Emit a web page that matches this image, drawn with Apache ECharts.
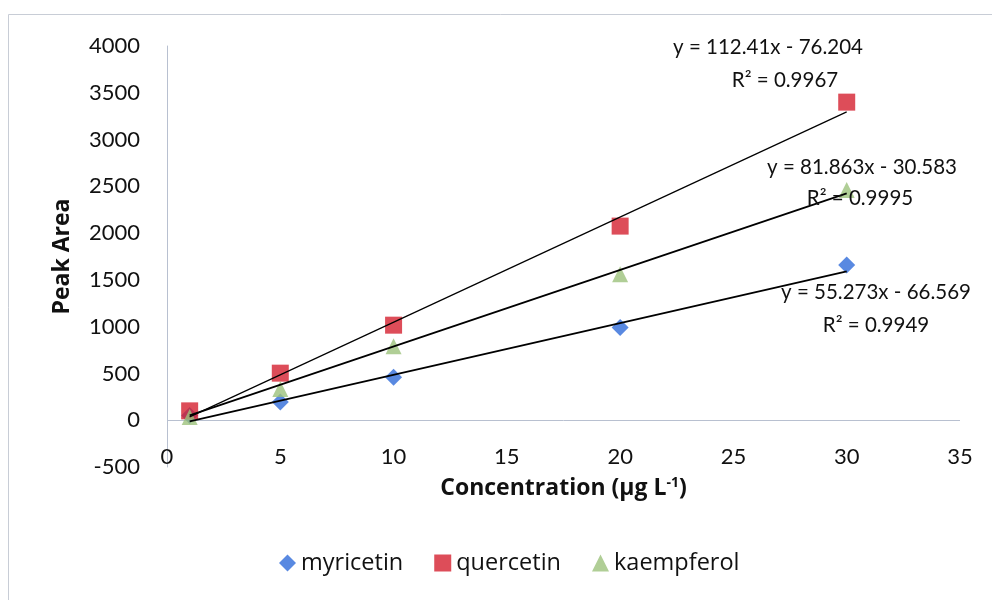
<!DOCTYPE html>
<html>
<head>
<meta charset="utf-8">
<script src="https://cdn.jsdelivr.net/npm/echarts@6/dist/echarts.min.js"></script>
<style>
html,body{margin:0;padding:0;background:#fff;}
#c{width:992px;height:600px;}
</style>
</head>
<body>
<div id="c"></div>
<script>
// Data
const concentrations = [1, 5, 10, 20, 30];
const myricetin = [50, 195, 460, 990, 1658];
const quercetin = [100, 503, 1016, 2075, 3400];
const kaempferol = [35, 335, 790, 1560, 2460];
// Trendline endpoints (at x = 1 and x = 30) from the printed fit equations
const trendX = [1, 30];
const myricetinTrend = [-11.3, 1591.6];
const quercetinTrend = [36.2, 3296.1];
const kaempferolTrend = [51.3, 2425.3];
const equations = [
  {eq: 'y = 112.41x - 76.204', r2: 'R² = 0.9967'},
  {eq: 'y = 81.863x - 30.583', r2: 'R² = 0.9995'},
  {eq: 'y = 55.273x - 66.569', r2: 'R² = 0.9949'}
];
const yTicks = {min: -500, max: 4000, interval: 500};
const xTicks = {min: 0, max: 35, interval: 5};

const FONT = 'Lato, "Open Sans", sans-serif';
const TFONT = '"Open Sans", Lato, sans-serif';
const blue = '#2F6CD9', red = '#D42030', green = '#9CC27C';
const axisColor = '#B8C0D0';

function pairs(xs, ys){ return xs.map((x,i)=>[x, ys[i]]); }

const chart = echarts.init(document.getElementById('c'), null, {renderer:'canvas'});
const eqStyle = {fontFamily: FONT, fontSize: 20.5, fill: '#111'};
chart.setOption({
  animation: false,
  backgroundColor: '#fff',
  grid: {left: 167, right: 32, top: 46, bottom: 133, containLabel: false},
  xAxis: {
    type: 'value', min: xTicks.min, max: xTicks.max, interval: xTicks.interval,
    axisLine: {show: false, onZero: false},
    axisTick: {show: false},
    splitLine: {show: false},
    axisLabel: {fontFamily: FONT, fontSize: 22, color: '#111', margin: -21},
    name: '{b|Concentration (μg L}{s|-1}{b|)}',
    nameLocation: 'middle', nameGap: 9,
    nameTextStyle: {
      rich: {
        b: {fontFamily: TFONT, fontSize: 23, fontWeight: 'bold', color: '#111'},
        s: {fontFamily: TFONT, fontSize: 14, fontWeight: 'bold', color: '#111', verticalAlign: 'top', padding: [0,0,11,0]}
      }
    }
  },
  yAxis: {
    type: 'value', min: yTicks.min, max: yTicks.max, interval: yTicks.interval,
    axisLine: {show: true, onZero: false, lineStyle: {color: axisColor, width: 1}},
    axisTick: {show: false},
    splitLine: {show: false},
    axisLabel: {fontFamily: FONT, fontSize: 22, color: '#111', margin: 27, formatter: v => String(v)},
    name: 'Peak Area', nameLocation: 'middle', nameGap: 93,
    nameTextStyle: {fontFamily: TFONT, fontSize: 23, fontWeight: 'bold', color: '#111'}
  },
  legend: {
    bottom: 20, left: 274,
    data: [
      {name: 'myricetin', icon: 'diamond'},
      {name: 'quercetin', icon: 'rect'},
      {name: 'kaempferol', icon: 'triangle'}
    ],
    itemWidth: 17, itemHeight: 17, itemGap: 31,
    textStyle: {fontFamily: TFONT, fontSize: 23.5, color: '#111'}
  },
  series: [
    {type: 'line', data: pairs(trendX, quercetinTrend), symbol: 'none', lineStyle: {color: '#000', width: 1.2}, silent: true, z: 3,
     markLine: {silent: true, symbol: 'none', label: {show: false}, lineStyle: {color: axisColor, type: 'solid', width: 1}, data: [{yAxis: 0}], z: 1}},
    {type: 'line', data: pairs(trendX, kaempferolTrend), symbol: 'none', lineStyle: {color: '#000', width: 1.8}, silent: true, z: 3},
    {type: 'line', data: pairs(trendX, myricetinTrend), symbol: 'none', lineStyle: {color: '#000', width: 1.8}, silent: true, z: 3},
    {name: 'myricetin', type: 'scatter', data: pairs(concentrations, myricetin), symbol: 'diamond', symbolSize: 17, itemStyle: {color: blue}, z: 2},
    {name: 'quercetin', type: 'scatter', data: pairs(concentrations, quercetin), symbol: 'rect', symbolSize: 17, itemStyle: {color: red}, z: 2},
    {name: 'kaempferol', type: 'scatter', data: pairs(concentrations, kaempferol), symbol: 'triangle', symbolSize: 16, itemStyle: {color: green}, z: 2}
  ],
  graphic: [
    {type: 'rect', shape: {x: 8.5, y: 14.5, width: 1100, height: 700}, style: {fill: 'none', stroke: '#C8CDD6', lineWidth: 1}, silent: true, z: 0},
    {type: 'text', x: 768, y: 47, style: Object.assign({text: equations[0].eq, align: 'center', verticalAlign: 'middle'}, eqStyle), z: 10},
    {type: 'text', x: 785, y: 80, style: Object.assign({text: equations[0].r2, align: 'center', verticalAlign: 'middle'}, eqStyle), z: 10},
    {type: 'text', x: 862, y: 167, style: Object.assign({text: equations[1].eq, align: 'center', verticalAlign: 'middle'}, eqStyle), z: 10},
    {type: 'text', x: 860, y: 198, style: Object.assign({text: equations[1].r2, align: 'center', verticalAlign: 'middle'}, eqStyle), z: 10},
    {type: 'text', x: 876, y: 292, style: Object.assign({text: equations[2].eq, align: 'center', verticalAlign: 'middle'}, eqStyle), z: 10},
    {type: 'text', x: 876, y: 325, style: Object.assign({text: equations[2].r2, align: 'center', verticalAlign: 'middle'}, eqStyle), z: 10}
  ]
});
</script>
</body>
</html>
